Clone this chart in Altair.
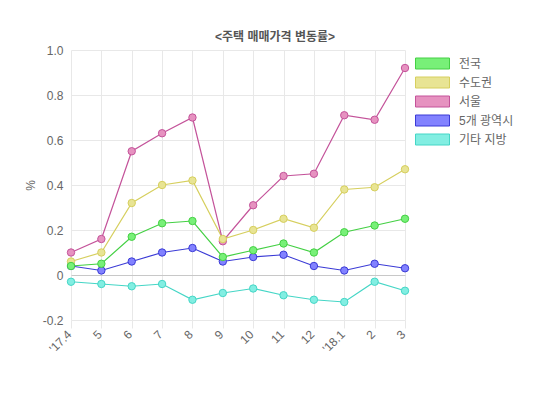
import altair as alt
import pandas as pd

months = ["'17.4", "5", "6", "7", "8", "9", "10", "11", "12", "'18.1", "2", "3"]
series = ["전국", "수도권", "서울", "\u00a05개 광역시", "기타 지방"]

nation = [0.04, 0.05, 0.17, 0.23, 0.24, 0.08, 0.11, 0.14, 0.10, 0.19, 0.22, 0.25]
capital = [0.06, 0.10, 0.32, 0.40, 0.42, 0.16, 0.20, 0.25, 0.21, 0.38, 0.39, 0.47]
seoul = [0.10, 0.16, 0.55, 0.63, 0.70, 0.15, 0.31, 0.44, 0.45, 0.71, 0.69, 0.92]
metro5 = [0.04, 0.02, 0.06, 0.10, 0.12, 0.06, 0.08, 0.09, 0.04, 0.02, 0.05, 0.03]
others = [-0.03, -0.04, -0.05, -0.04, -0.11, -0.08, -0.06, -0.09, -0.11, -0.12, -0.03, -0.07]

line_colors = ["#44d044", "#d6cf5e", "#c4539a", "#3b3bd6", "#45d6c6"]
fill_colors = ["#78f078", "#e8e494", "#e692c0", "#8282ff", "#82eee2"]

values = [nation, capital, seoul, metro5, others]
rows = []
for s_i, (name, vals) in enumerate(zip(series, values)):
    for m_i, (m, v) in enumerate(zip(months, vals)):
        rows.append({"month": m, "series": name, "value": v, "ord": -s_i})
df = pd.DataFrame(rows)

FONT = "Liberation Sans, Noto Sans CJK KR, sans-serif"

x = alt.X(
    "month:N",
    sort=months,
    scale=alt.Scale(padding=0),
    axis=alt.Axis(
        title=None,
        labelAngle=-45,
        labelAlign="right",
        labelBaseline="middle",
        labelFontSize=12,
        labelColor="#666",
        labelFont=FONT,
        labelPadding=4,
        labelOffset=-2,
        grid=True,
        gridColor="#e8e8e8",
        tickColor="#e8e8e8",
        tickSize=8,
        domain=False,
    ),
)
y = alt.Y(
    "value:Q",
    scale=alt.Scale(domain=[-0.2, 1.0], nice=False, zero=False),
    axis=alt.Axis(
        title="%",
        titleAngle=-90,
        titleX=-34,
        titleY=135,
        titleFontSize=12,
        titleFontWeight="normal",
        titleColor="#666",
        titleFont=FONT,
        values=[-0.2, 0, 0.2, 0.4, 0.6, 0.8, 1.0],
        labelExpr="datum.value == 0 ? '0' : (datum.value < 0 ? '-' : '') + format(abs(datum.value), '.1f')",
        labelFontSize=12,
        labelColor="#666",
        labelFont=FONT,
        labelPadding=8,
        ticks=False,
        domain=False,
        gridColor={"condition": {"test": "datum.value === 0", "value": "#c8c8c8"}, "value": "#e8e8e8"},
    ),
)

legend = alt.Legend(
    title=None,
    orient="none",
    legendX=353,
    legendY=5,
    symbolType="M-2.125,-0.6875H2.125V0.6875H-2.125Z",
    symbolSize=256,
    symbolStrokeWidth=1,
    labelFontSize=12,
    labelColor="#666",
    labelFont=FONT,
    labelOffset=18,
    rowPadding=3,
    padding=0,
)

lines = alt.Chart(df).mark_line(strokeWidth=1.2).encode(
    x=x,
    y=y,
    stroke=alt.Stroke("series:N", scale=alt.Scale(domain=series, range=line_colors), legend=legend),
    detail="series:N",
)

points = alt.Chart(df).mark_point(filled=True, size=55, strokeWidth=1, opacity=1).encode(
    x=x,
    y=y,
    fill=alt.Fill("series:N", scale=alt.Scale(domain=series, range=fill_colors), legend=legend),
    stroke=alt.Stroke("series:N", scale=alt.Scale(domain=series, range=line_colors), legend=legend),
    order=alt.Order("ord:Q"),
)

chart = (
    alt.layer(lines, points)
    .properties(
        width=334,
        height=270,
        padding={"left": 63, "top": 42, "right": 137, "bottom": 67},
        autosize=alt.AutoSizeParams(type="none"),
        title=alt.TitleParams(
            "<주택 매매가격 변동률>",
            font=FONT,
            fontSize=12,
            fontWeight="bold",
            color="#555",
            anchor="middle",
            dx=37,
            offset=0,
        ),
    )
    .configure_view(stroke=None)
)

chart.save("out.html", embed_options={"renderer": "svg", "actions": False})
